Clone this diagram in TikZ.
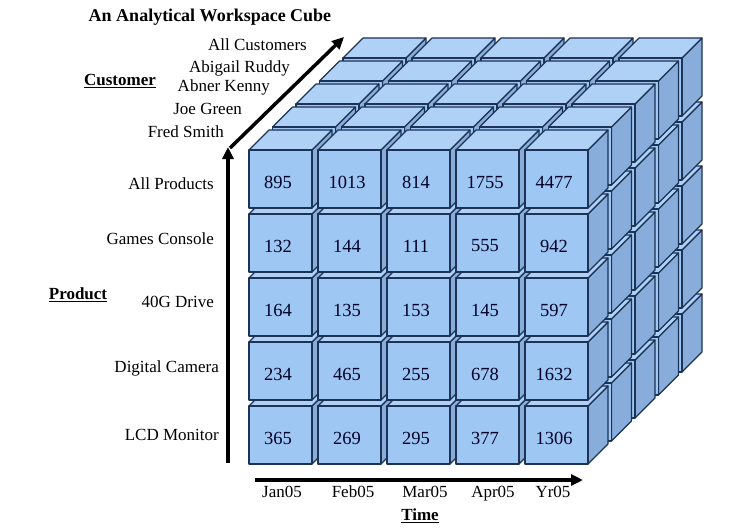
\documentclass[tikz,border=0pt]{standalone}
\usepackage{fontspec}
\setmainfont{Liberation Serif}
\usetikzlibrary{arrows.meta}

\definecolor{cubefront}{HTML}{9EC7F3}
\definecolor{cubetop}{HTML}{B0D1F6}
\definecolor{cubeside}{HTML}{88ADDB}
\definecolor{cubeedge}{HTML}{1C3256}

\begin{document}
\begin{tikzpicture}[x=1pt, y=-1pt,
    every node/.style={font=\fontsize{17}{20}\selectfont, inner sep=0pt},
    cubeline/.style={draw=cubeedge, line width=1.1pt, line join=round},
    cfront/.style={cubeline, fill=cubefront},
    ctop/.style={cubeline, fill=cubetop},
    cside/.style={cubeline, fill=cubeside},
    axis/.style={line width=3.5pt, -{Triangle[length=12pt, width=11pt]}},
    val/.style={font=\fontsize{18.5}{22}\selectfont, text=black!85!blue},
    lab/.style={anchor=mid east},
    dimname/.style={font=\fontsize{17}{20}\selectfont\bfseries, anchor=mid}
  ]
    \useasboundingbox (0,0) rectangle (736,532);

    % Titel
    \node[font=\fontsize{18}{22}\selectfont\bfseries] (title) at (210,17) {An Analytical Workspace Cube};

    % Wuerfel: hinten nach vorne, unten nach oben, links nach rechts
    \foreach \k in {4,...,0} {
      \foreach \j in {4,...,0} {
        \foreach \i in {0,...,4} {
          \pgfmathsetmacro{\cx}{249+69*\i+23.5*\k}
          \pgfmathsetmacro{\cy}{150+64*\j-23*\k}
          \draw[cside] (\cx+63,\cy) -- ++(20,-20) -- ++(0,58) -- ++(-20,20) -- cycle;
          \draw[ctop] (\cx,\cy) -- ++(63,0) -- ++(20,-20) -- ++(-63,0) -- cycle;
          \draw[cfront] (\cx,\cy) rectangle ++(63,58);
        }
      }
    }

    % Werte (vorderste Ebene)
    \foreach \r/\vals in {0/{895,1013,814,1755,4477}, 1/{132,144,111,555,942},
        2/{164,135,153,145,597}, 3/{234,465,255,678,1632}, 4/{365,269,295,377,1306}} {
      \foreach \v [count=\i from 0] in \vals {
        \node[val] (v\r\i) at (249+69*\i+29, 150+64*\r+32) {\v};
      }
    }

    % Achsen
    \coordinate (p0) at (228,463);
    \coordinate (p1) at (228,147);
    \coordinate (t0) at (255,480);
    \coordinate (t1) at (583,480);
    \coordinate (c0) at (230,148);
    \coordinate (c1) at (344,37);
    \draw[axis] (p0) -- (p1);
    \draw[axis] (t0) -- (t1);
    \draw[axis] (c0) -- (c1);

    % Produkte
    \node[lab] (prod0) at (214,187) {All Products};
    \node[lab] (prod1) at (214,242) {Games Console};
    \node[lab] (prod2) at (214,305) {40G Drive};
    \node[lab] (prod3) at (219,370) {Digital Camera};
    \node[lab] (prod4) at (219,438) {LCD Monitor};
    \node[dimname] (product) at (78,297) {\underline{Product}};

    % Kunden
    \node[lab] (cust0) at (307,48) {All Customers};
    \node[lab] (cust1) at (290,70) {Abigail Ruddy};
    \node[lab] (cust2) at (270,89) {Abner Kenny};
    \node[lab] (cust3) at (242,112) {Joe Green};
    \node[lab] (cust4) at (224,135) {Fred Smith};
    \node[dimname] (customer) at (120,83) {\underline{Customer}};

    % Zeit
    \foreach \m/\xx [count=\i from 0] in {Jan05/282, Feb05/353, Mar05/425, Apr05/493, Yr05/553} {
      \node[anchor=mid] (time\i) at (\xx,495) {\m};
    }
    \node[dimname] (time) at (420,518) {\underline{Time}};
  \end{tikzpicture}
\end{document}
